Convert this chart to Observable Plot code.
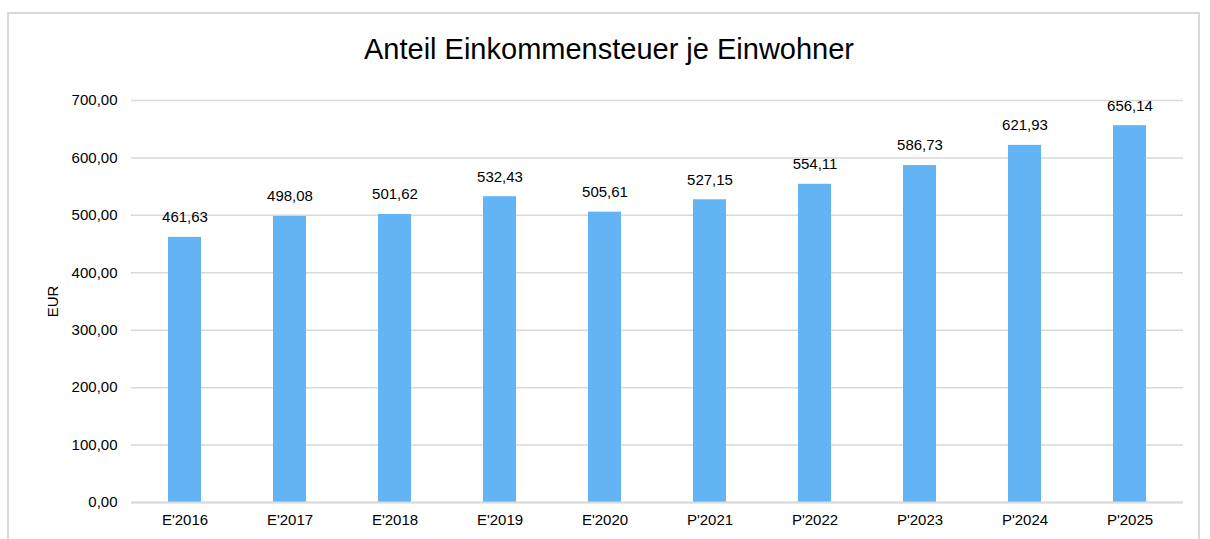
<!DOCTYPE html>
<html><head><meta charset="utf-8">
<script src="https://cdn.jsdelivr.net/npm/d3@7"></script>
<script src="https://cdn.jsdelivr.net/npm/@observablehq/plot@0.6"></script>
<style>
html,body{margin:0;padding:0;background:#fff;overflow:hidden;}
body{width:1210px;height:539px;position:relative;font-family:"Liberation Sans",Arial,sans-serif;}
#frame{position:absolute;left:7px;top:12px;width:1193px;height:600px;border:2px solid #d9d9d9;box-sizing:border-box;}
#title{position:absolute;left:0;top:32px;width:1218px;text-align:center;font-size:29px;line-height:34px;color:#000;}
#chart{position:absolute;left:0;top:80px;}
</style></head>
<body>
<div id="frame"></div>
<div id="title">Anteil Einkommensteuer je Einwohner</div>
<div id="chart"></div>
<script>
const categories = ["E'2016","E'2017","E'2018","E'2019","E'2020","P'2021","P'2022","P'2023","P'2024","P'2025"];
const values = [461.63, 498.08, 501.62, 532.43, 505.61, 527.15, 554.11, 586.73, 621.93, 656.14];
const yTicks = [0, 100, 200, 300, 400, 500, 600, 700];

const data = categories.map((c, i) => ({cat: c, val: values[i]}));
const de = v => v.toFixed(2).replace(".", ",");

const chart = Plot.plot({
  width: 1210,
  height: 459,
  marginLeft: 131,
  marginRight: 27,
  marginTop: 20,
  marginBottom: 37,
  style: {fontFamily: "'Liberation Sans', Arial, sans-serif", fontSize: "15px", color: "#000", background: "transparent"},
  x: {domain: categories, paddingInner: 0.686, paddingOuter: 0.343, label: null},
  y: {domain: [0, 700], ticks: yTicks, label: "EUR"},
  marks: [
    Plot.gridY(yTicks, {stroke: "#d9d9d9", strokeOpacity: 1, strokeWidth: 1.5}),
    Plot.barY(data, {x: "cat", y: "val", fill: "#63b4f5"}),
    Plot.ruleY([0], {stroke: "#d9d9d9", strokeWidth: 2}),
    Plot.axisY(yTicks, {tickSize: 0, tickPadding: 14, tickFormat: de, label: "EUR", labelAnchor: "center", labelOffset: 84, fontSize: 15, labelArrow: "none"}),
    Plot.axisX({tickSize: 0, tickPadding: 12, label: null, fontSize: 15}),
    Plot.text(data, {x: "cat", y: "val", text: d => de(d.val), dy: -20, fontSize: 15, fill: "#000"})
  ]
});
document.getElementById("chart").appendChild(chart);
</script>
</body></html>
